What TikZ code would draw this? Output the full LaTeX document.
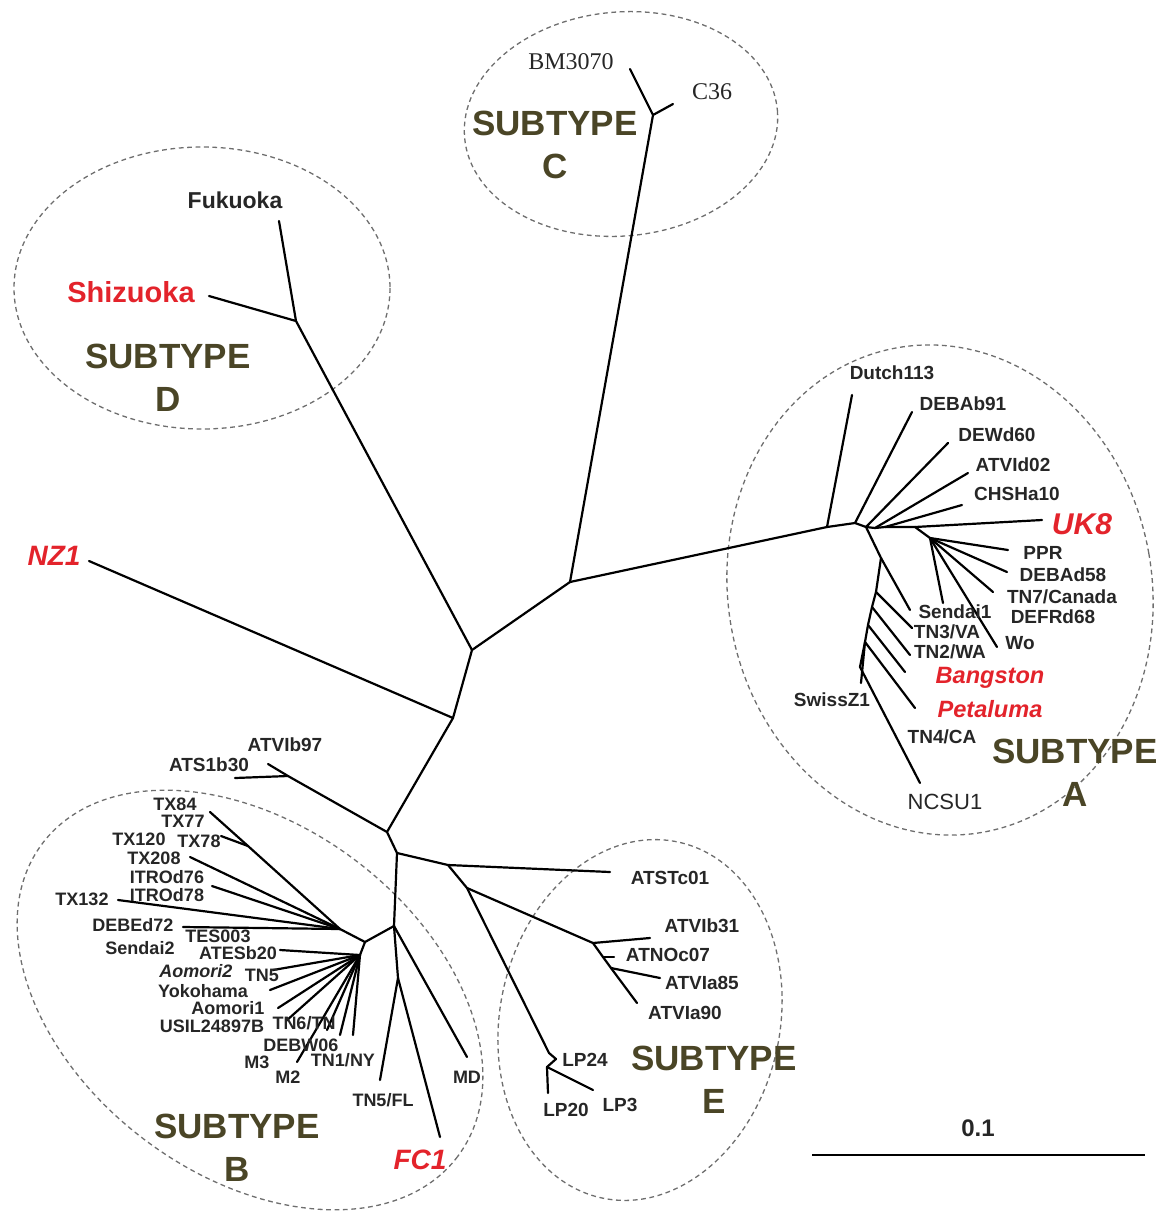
\documentclass[tikz,border=0pt]{standalone}
\usepackage{fontspec}
\setmainfont{Liberation Sans}
\newfontfamily\serifnames{Liberation Serif}
\usetikzlibrary{positioning,calc}
\definecolor{tipred}{HTML}{E3232B}
\definecolor{subolive}{HTML}{4A4526}
\definecolor{ringgray}{HTML}{6E6E6E}
\tikzset{
  branch/.style ={line width=1.1pt, black, line cap=round, line join=round},
  ring/.style   ={draw=ringgray, dash pattern=on 2.4pt off 1.8pt, line width=0.65pt},
  leaf/.style   ={font=\fontsize{9.5}{11}\selectfont\bfseries, text=black!85, inner sep=0pt},
  leafb/.style  ={leaf, font=\fontsize{9}{10}\selectfont\bfseries},
  leafc/.style  ={font=\fontsize{12}{14}\serifnames, text=black!85, inner sep=0pt},
  redleaf/.style={font=\fontsize{14}{16}\selectfont\bfseries\itshape, text=tipred, inner sep=0pt},
  subtype/.style={font=\fontsize{17.5}{21.5}\selectfont\bfseries, text=subolive, align=center, inner sep=0pt},
}
\begin{document}
\begin{tikzpicture}[x=0.5pt,y=-0.5pt]
  \useasboundingbox (0,0) rectangle (1165,1212);
  % --- dashed rings ---
  \draw[ring, rotate around={5:(621,124)}]   (621,124) ellipse (157 and 112);
  \draw[ring]                                (202,288) ellipse (188 and 141);
  \draw[ring, rotate around={10:(940,590)}]  (940,590) ellipse (212 and 246);
  \draw[ring, rotate around={-37:(250,1000)}] (250,1000) ellipse (260 and 175);
  \draw[ring, rotate around={-12:(640,1020)}] (640,1020) ellipse (140 and 182);

  % --- backbone ---
  \coordinate (nCA) at (570,582);
  \coordinate (nD)  at (472,650);
  \coordinate (nNZ) at (453,718);
  \coordinate (nS)  at (387,832);
  \coordinate (nBE) at (397,853);
  \coordinate (nE)  at (448,865);
  \coordinate (tATSTc01) at (610,872);
  \draw[branch] (nCA) -- (nD) -- (nNZ) -- (nS) -- (nBE) -- (nE) -- (tATSTc01);

  % --- subtype C ---
  \coordinate (cF)   at (653,115);
  \coordinate (tBM)  at (630,69);
  \coordinate (tC36) at (673,104);
  \draw[branch] (nCA) -- (cF) -- (tBM) (cF) -- (tC36);
  \node[leafc] (lBM)  at (571,62) {BM3070};
  \node[leafc] (lC36) at (712,92) {C36};
  \node[subtype] (subC) at (555,145) {SUBTYPE\\C};

  % --- subtype D and NZ1 ---
  \coordinate (dN)   at (296,321);
  \coordinate (tFuk) at (279,221);
  \coordinate (tShi) at (209,296);
  \coordinate (tNZ1) at (89,561);
  \draw[branch] (nD) -- (dN) -- (tFuk) (dN) -- (tShi);
  \draw[branch] (nNZ) -- (tNZ1);
  \node[leaf, font=\fontsize{11.5}{13}\selectfont\bfseries] (lFuk) at (235,200) {Fukuoka};
  \node[leaf, font=\fontsize{14.5}{16}\selectfont\bfseries, text=tipred] (lShi) at (131,292) {Shizuoka};
  \node[redleaf] (lNZ1) at (54,556) {NZ1};
  \node[subtype] (subD) at (168,378) {SUBTYPE\\D};

  % --- ATVIb97 / ATS1b30 ---
  \coordinate (sN)  at (288,776);
  \coordinate (tATVIb97) at (268,764);
  \coordinate (tATS1b30) at (235,778);
  \draw[branch] (nS) -- (sN) -- (tATVIb97) (sN) -- (tATS1b30);
  \node[leaf] (lATVIb97) at (285,745) {ATVIb97};
  \node[leaf] (lATS1b30) at (209,765) {ATS1b30};

  % --- subtype B ---
  \coordinate (bN) at (394,926);
  \coordinate (bF) at (398,978);
  \coordinate (bA) at (365,942);
  \coordinate (bU) at (340,929);
  \coordinate (bL) at (360,955);
  \coordinate (bTX) at (248,846);
  \draw[branch] (nBE) -- (bN) -- (bA) -- (bU) (bA) -- (bL);
  \draw[branch] (bN) -- (467,1057) coordinate (tMD);
  \draw[branch] (bN) -- (bF) -- (380,1080) coordinate (tTN5FL);
  \draw[branch] (bF) -- (440,1137) coordinate (tFC1);
  \draw[branch] (bU) -- (bTX) -- (210,812) coordinate (tTX84);
  \draw[branch] (bTX) -- (221,836) coordinate (tTX78);
  \foreach \tipname/\p in {TX208/{(190,857)}, ITROd76/{(212,886)},
                           TX132/{(118,900)}, DEBEd72/{(183,927)}}
    \draw[branch] (bU) -- \p coordinate (t\tipname);
  \foreach \tipname/\p in {ATESb20/{(280,950)}, Aomori2/{(273,970)}, Yoko/{(270,990)},
                           Aomori1/{(278,1008)}, USIL/{(286,1021)}, TN6/{(327,1030)},
                           DEBW/{(340,1035)}, TN1/{(353,1035)}, M2/{(297,1062)}}
    \draw[branch] (bL) -- \p coordinate (t\tipname);
  \node[leafb] (lTX84)    at (175,804)  {TX84};
  \node[leafb] (lTX77)    at (183,821)  {TX77};
  \node[leafb] (lTX120)   at (139,839)  {TX120};
  \node[leafb] (lTX78)    at (199,841)  {TX78};
  \node[leafb] (lTX208)   at (154,858)  {TX208};
  \node[leafb] (lITROd76) at (167,877)  {ITROd76};
  \node[leafb] (lITROd78) at (167,895)  {ITROd78};
  \node[leafb] (lTX132)   at (82,899)   {TX132};
  \node[leafb] (lDEBEd72) at (133,925)  {DEBEd72};
  \node[leafb] (lTES003)  at (218,936)  {TES003};
  \node[leafb] (lSendai2) at (140,948)  {Sendai2};
  \node[leafb] (lATESb20) at (238,953)  {ATESb20};
  \node[leafb, font=\fontsize{9}{10}\selectfont\bfseries\itshape] (lAomori2) at (196,971) {Aomori2};
  \node[leafb] (lTN5)     at (262,975)  {TN5};
  \node[leafb] (lYoko)    at (203,991)  {Yokohama};
  \node[leafb] (lAomori1) at (228,1008) {Aomori1};
  \node[leafb] (lUSIL)    at (212,1026) {USIL24897B};
  \node[leafb] (lTN6)     at (304,1023) {TN6/TN};
  \node[leafb] (lDEBW)    at (301,1045) {DEBW06};
  \node[leafb] (lM3)      at (257,1062) {M3};
  \node[leafb] (lM2)      at (288,1077) {M2};
  \node[leafb] (lTN1)     at (343,1060) {TN1/NY};
  \node[leafb] (lTN5FL)   at (383,1100) {TN5/FL};
  \node[leafb] (lMD)      at (467,1077) {MD};
  \node[redleaf] (lFC1)  at (420,1160) {FC1};
  \node[subtype] (subB)  at (237,1148) {SUBTYPE\\B};

  % --- subtype E ---
  \coordinate (eN)   at (467,888);
  \coordinate (eV)   at (593,943);
  \coordinate (eNO)  at (603,957);
  \coordinate (eV85) at (611,968);
  \coordinate (eLP)  at (549,1053);
  \coordinate (tLP24) at (556,1059);
  \coordinate (eLP2) at (547,1067);
  \draw[branch] (nE) -- (eN) -- (eV) -- (eNO) -- (eV85) -- (637,1003) coordinate (tATVIa90);
  \draw[branch] (eV) -- (650,938) coordinate (tATVIb31);
  \draw[branch] (eNO) -- (614,957) coordinate (tATNOc07);
  \draw[branch] (eV85) -- (660,978) coordinate (tATVIa85);
  \draw[branch] (eN) -- (eLP) -- (tLP24) -- (eLP2) -- (548,1093) coordinate (tLP20);
  \draw[branch] (eLP2) -- (593,1090) coordinate (tLP3);
  \node[leaf] (lATSTc01) at (670,878)  {ATSTc01};
  \node[leaf] (lATVIb31) at (702,926)  {ATVIb31};
  \node[leaf] (lATNOc07) at (668,955)  {ATNOc07};
  \node[leaf] (lATVIa85) at (702,983)  {ATVIa85};
  \node[leaf] (lATVIa90) at (685,1013) {ATVIa90};
  \node[leaf] (lLP24)    at (585,1060) {LP24};
  \node[leaf] (lLP20)    at (566,1110) {LP20};
  \node[leaf] (lLP3)     at (620,1105) {LP3};
  \node[subtype] (subE)  at (714,1080) {SUBTYPE\\E};

  % --- subtype A ---
  \coordinate (aR) at (827,527);
  \coordinate (aB) at (855,523);
  \coordinate (aC) at (866,527);
  \coordinate (aD) at (875,528);
  \coordinate (aE) at (885,527);
  \coordinate (aU) at (915,527);
  \coordinate (aV) at (930,538);
  \draw[branch] (nCA) -- (aR) -- (aB) -- (aC) -- (aD) -- (aE) -- (aU) -- (aV);
  \draw[branch] (aR) -- (852,395) coordinate (tDutch);
  \draw[branch] (aB) -- (912,412) coordinate (tDEBAb91);
  \draw[branch] (aC) -- (948,443) coordinate (tDEWd60);
  \draw[branch] (aD) -- (968,473) coordinate (tATVId02);
  \draw[branch] (aE) -- (962,505) coordinate (tCHSHa10);
  \draw[branch] (aU) -- (1042,520) coordinate (tUK8);
  \foreach \tipname/\p in {PPR/{(1008,550)}, DEBAd58/{(1007,572)}, TN7/{(993,592)},
                           DEFRd68/{(943,603)}, Wo/{(997,647)}}
    \draw[branch] (aV) -- \p coordinate (t\tipname);
  % lower arc of subtype A
  \coordinate (aK1) at (881,558);
  \coordinate (aK2) at (876,592);
  \coordinate (aK3) at (872,607);
  \coordinate (aK4) at (868,625);
  \coordinate (aK5) at (865,642);
  \coordinate (aK6) at (860,667);
  \draw[branch] (aC) -- (aK1) -- (aK2) -- (aK3) -- (aK4) -- (aK5) -- (aK6) -- (920,783) coordinate (tNCSU1);
  \draw[branch] (aK1) -- (910,610) coordinate (tSendai1);
  \draw[branch] (aK2) -- (912,628) coordinate (tTN3);
  \draw[branch] (aK3) -- (910,655) coordinate (tTN2);
  \draw[branch] (aK4) -- (905,672) coordinate (tBang);
  \draw[branch] (aK5) -- (915,708) coordinate (tPeta);
  \draw[branch] (aK5) -- (861,683) coordinate (tSwiss);
  \node[leaf] (lDutch)   at (892,373) {Dutch113};
  \node[leaf] (lDEBAb91) at (963,404) {DEBAb91};
  \node[leaf] (lDEWd60)  at (997,435) {DEWd60};
  \node[leaf] (lATVId02) at (1013,465) {ATVId02};
  \node[leaf] (lCHSHa10) at (1017,494) {CHSHa10};
  \node[redleaf, font=\fontsize{15}{17}\selectfont\bfseries\itshape] (lUK8) at (1082,524) {UK8};
  \node[leaf] (lPPR)     at (1043,553) {PPR};
  \node[leaf] (lDEBAd58) at (1063,575) {DEBAd58};
  \node[leaf] (lTN7)     at (1062,597) {TN7/Canada};
  \node[leaf] (lDEFRd68) at (1053,617) {DEFRd68};
  \node[leaf] (lSendai1) at (955,612) {Sendai1};
  \node[leaf] (lTN3)     at (947,632) {TN3/VA};
  \node[leaf] (lWo)      at (1020,643) {Wo};
  \node[leaf] (lTN2)     at (950,652) {TN2/WA};
  \node[redleaf, font=\fontsize{11.8}{14}\selectfont\bfseries\itshape] (lBang) at (990,678) {Bangston};
  \node[redleaf, font=\fontsize{11.8}{14}\selectfont\bfseries\itshape] (lPeta) at (990,709) {Petaluma};
  \node[leaf] (lSwiss)   at (832,700) {SwissZ1};
  \node[leaf] (lTN4)     at (942,737) {TN4/CA};
  \node[leaf, font=\fontsize{11}{13}\selectfont] (lNCSU1) at (945,802) {NCSU1};
  \node[subtype] (subA)  at (1075,773) {SUBTYPE\\A};

  % --- scale bar ---
  \coordinate (sbL) at (812,1155);
  \coordinate (sbR) at (1145,1155);
  \draw[line width=1.3pt] (sbL) -- (sbR);
  \node[leaf, font=\fontsize{12}{14}\selectfont\bfseries] (lScale) at (978,1128) {0.1};
\end{tikzpicture}
\end{document}
